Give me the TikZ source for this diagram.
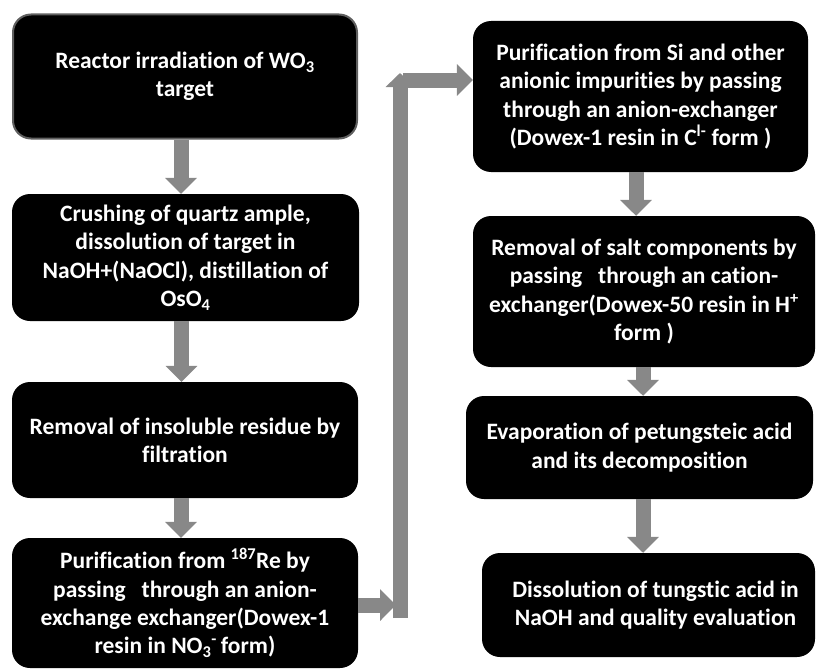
\documentclass[tikz,border=0pt]{standalone}
\usepackage{fontspec}
\setmainfont{Carlito}[Ligatures=NoCommon]
\usetikzlibrary{arrows.meta}
\definecolor{arrowgray}{RGB}{136,136,136}
\definecolor{bordergray}{RGB}{95,95,95}
\begin{document}
\begin{tikzpicture}[x=1pt,y=-1pt,
  box/.style={rectangle, rounded corners=18pt, fill=black, text=white, align=center,
    inner sep=0pt, font=\fontsize{23.5}{28.3}\selectfont\bfseries},
  flow/.style={draw=arrowgray, line width=15pt, -{Triangle[width=31pt,length=16pt]}},
  uptip/.style={draw=arrowgray, line width=15pt, -{Triangle[width=28pt,length=14pt]}},
]
\useasboundingbox (0,0) rectangle (818,669);

\node[box, draw=bordergray, line width=2pt, minimum width=344pt, minimum height=124pt] (b1) at (185,76.5)
  {Reactor irradiation of WO\textsubscript{3}\\target};
\node[box, minimum width=347pt, minimum height=127pt] (b2) at (185.5,257.5)
  {Crushing of quartz ample,\\dissolution of target in\\NaOH+(NaOCl), distillation of\\OsO\textsubscript{4}};
\node[box, minimum width=346pt, minimum height=116pt] (b3) at (185,440)
  {Removal of insoluble residue by\\filtration};
\node[box, minimum width=346pt, minimum height=130pt] (b4) at (185,603)
  {Purification from \textsuperscript{187}Re by\\passing\ \ \ through an anion-\\exchange exchanger(Dowex-1\\resin in NO\textsubscript{3}\textsuperscript{-}\,form)};

\node[box, minimum width=335pt, minimum height=151pt] (b5) at (640.5,96.5)
  {Purification from Si and other\\anionic impurities by passing\\through an anion-exchanger\\(Dowex-1 resin in C\textsuperscript{l-} form )};
\node[box, minimum width=342pt, minimum height=151pt] (b6) at (644,291.5)
  {Removal of salt components by\\passing\ \ \ through an cation-\\exchanger(Dowex-50 resin in H\textsuperscript{+}\\form )};
\node[box, minimum width=347pt, minimum height=103pt] (b7) at (639.5,447.5)
  {Evaporation of petungsteic acid\\and its decomposition};
\node[box, minimum width=333pt, minimum height=104pt] (b8) at (648.5,605)
  {\hspace*{14pt}Dissolution of tungstic acid in\\\hspace*{14pt}NaOH and quality evaluation};

\coordinate (c1) at (396,605);
\coordinate (c2) at (400,618);
\coordinate (c3) at (400,73);
\coordinate (c4) at (403,80);

\draw[flow] ([xshift=-4pt]b1.south) -- ([xshift=-4pt]b1.south |- b2.north);
\draw[flow] ([xshift=-4pt]b2.south) -- ([xshift=-4pt]b2.south |- b3.north);
\draw[flow] ([xshift=-4pt]b3.south) -- ([xshift=-4pt]b3.south |- b4.north);
\draw[flow] (b4.east |- c1) -- (c1);
\draw[uptip] (c2) -- (c3);
\draw[flow] (c4) -- (b5.west |- c4);
\draw[flow] ([xshift=-4.5pt]b5.south) -- ([xshift=-4.5pt]b5.south |- b6.north);
\draw[flow] ([xshift=-1pt]b6.south) -- ([xshift=-1pt]b6.south |- b7.north);
\draw[flow] ([xshift=3.5pt]b7.south) -- ([xshift=3.5pt]b7.south |- b8.north);
\end{tikzpicture}
\end{document}
